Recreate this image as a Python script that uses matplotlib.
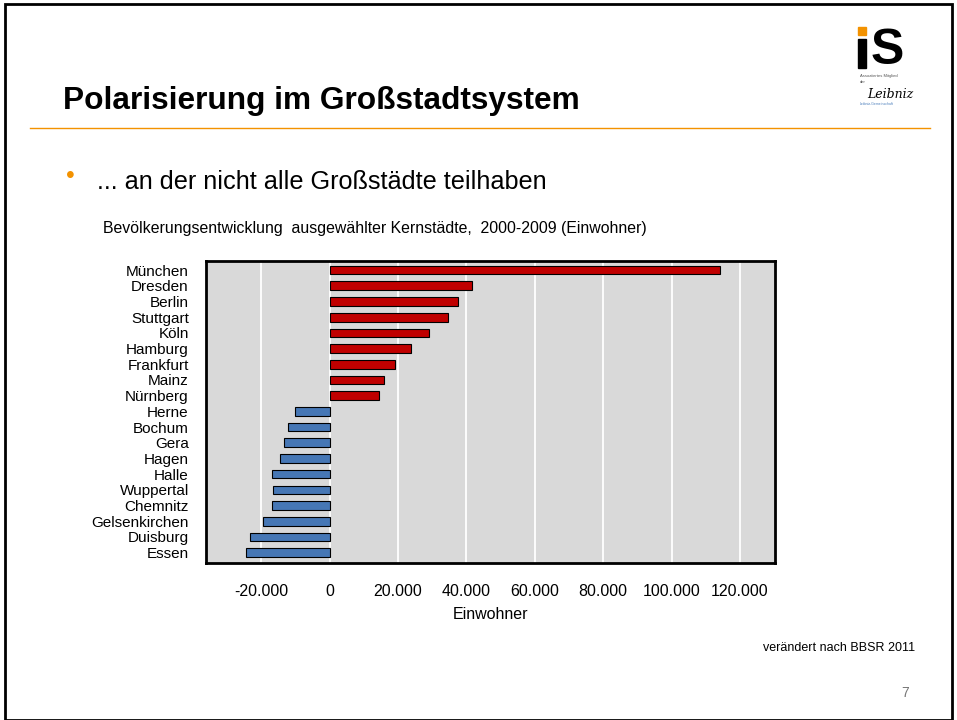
import matplotlib.pyplot as plt
from matplotlib.patches import Rectangle
from matplotlib.lines import Line2D
from matplotlib.ticker import FuncFormatter

plt.rcParams['font.family'] = ['Liberation Sans', 'DejaVu Sans']

# Bevölkerungsentwicklung 2000-2009 (Einwohner)
staedte = ['München', 'Dresden', 'Berlin', 'Stuttgart', 'Köln', 'Hamburg',
           'Frankfurt', 'Mainz', 'Nürnberg', 'Herne', 'Bochum', 'Gera',
           'Hagen', 'Halle', 'Wuppertal', 'Chemnitz', 'Gelsenkirchen',
           'Duisburg', 'Essen']
veraenderung = [114200, 41600, 37700, 34700, 29200, 23700, 19200, 15900,
                14600, -10000, -12200, -13300, -14400, -16700, -16600,
                -16800, -19400, -23300, -24300]
x_ticks = [-20000, 0, 20000, 40000, 60000, 80000, 100000, 120000]

fig = plt.figure(figsize=(9.57, 7.2), dpi=100)
W, H = 957, 720

# Folienrahmen
fig.add_artist(Rectangle((5 / W, 0), 947 / W, 1 - 4 / H, transform=fig.transFigure,
                         fill=False, edgecolor='black', linewidth=2))

# Titel und Trennlinie
fig.text(63 / W, 1 - 101 / H, 'Polarisierung im Großstadtsystem', fontsize=22.8,
         fontweight='bold', va='center', ha='left')
fig.add_artist(Line2D([30 / W, 930 / W], [1 - 128 / H, 1 - 128 / H],
                      transform=fig.transFigure, color='#F39200', linewidth=1))

# Logo
fig.add_artist(Rectangle((858 / W, 1 - 35 / H), 8 / W, 8 / H, transform=fig.transFigure,
                         color='#F39200'))
fig.add_artist(Rectangle((858 / W, 1 - 68 / H), 8 / W, 29 / H, transform=fig.transFigure,
                         color='black'))
fig.text(887 / W, 1 - 51 / H, 'S', fontsize=36, fontweight='bold', ha='center',
         va='center')
fig.text(860 / W, 1 - 79 / H, 'Assoziiertes Mitglied\nder', fontsize=3,
         ha='left', va='center', color='#555555', linespacing=1.5)
fig.text(890 / W, 1 - 95 / H, 'Leibniz', fontsize=9, style='italic', ha='center',
         va='center', family='DejaVu Serif')
fig.text(860 / W, 1 - 104 / H, 'Leibniz-Gemeinschaft', fontsize=2.5,
         ha='left', va='center', color='#4F81BD')

# Aufzählungspunkt
fig.text(70 / W, 1 - 176 / H, '•', fontsize=18, color='#F39200', ha='center', va='center')
fig.text(97 / W, 1 - 182 / H, '... an der nicht alle Großstädte teilhaben',
         fontsize=18.2, ha='left', va='center')

fig.text(103 / W, 1 - 229 / H,
         'Bevölkerungsentwicklung  ausgewählter Kernstädte,  2000-2009 (Einwohner)',
         fontsize=11.4, ha='left', va='center')

# Diagramm
ax = fig.add_axes([205.5 / W, 1 - 562.7 / H, (775 - 205.5) / W, (562.7 - 260.7) / H])
ax.set_facecolor('#D9D9D9')
farben = ['#C00000' if v > 0 else '#4677B5' for v in veraenderung]
ax.barh(range(len(staedte)), veraenderung, height=0.55, color=farben,
        edgecolor='black', linewidth=0.8, zorder=3)
ax.set_xlim(-36260, 130260)
ax.set_ylim(len(staedte) - 0.36, -0.6)
ax.set_xticks(x_ticks)
ax.xaxis.set_major_formatter(FuncFormatter(lambda v, p: f'{int(v):,}'.replace(',', '.')))
ax.grid(axis='x', color='white', linewidth=1.3, zorder=1)
ax.set_yticks(range(len(staedte)))
ax.set_yticklabels(staedte, fontsize=11)
ax.tick_params(axis='both', length=0, labelsize=11.5)
ax.tick_params(axis='y', labelsize=11, pad=12)
ax.tick_params(axis='x', pad=15)
for s in ax.spines.values():
    s.set_linewidth(2)
ax.set_xlabel('Einwohner', fontsize=11.5, labelpad=6)

# Quelle und Seitenzahl
fig.text(915 / W, 1 - 648 / H, 'verändert nach BBSR 2011', fontsize=9,
         ha='right', va='center')
fig.text(905 / W, 1 - 693 / H, '7', fontsize=10, color='#777777', ha='center', va='center')

fig.savefig('out.png', dpi=100)
